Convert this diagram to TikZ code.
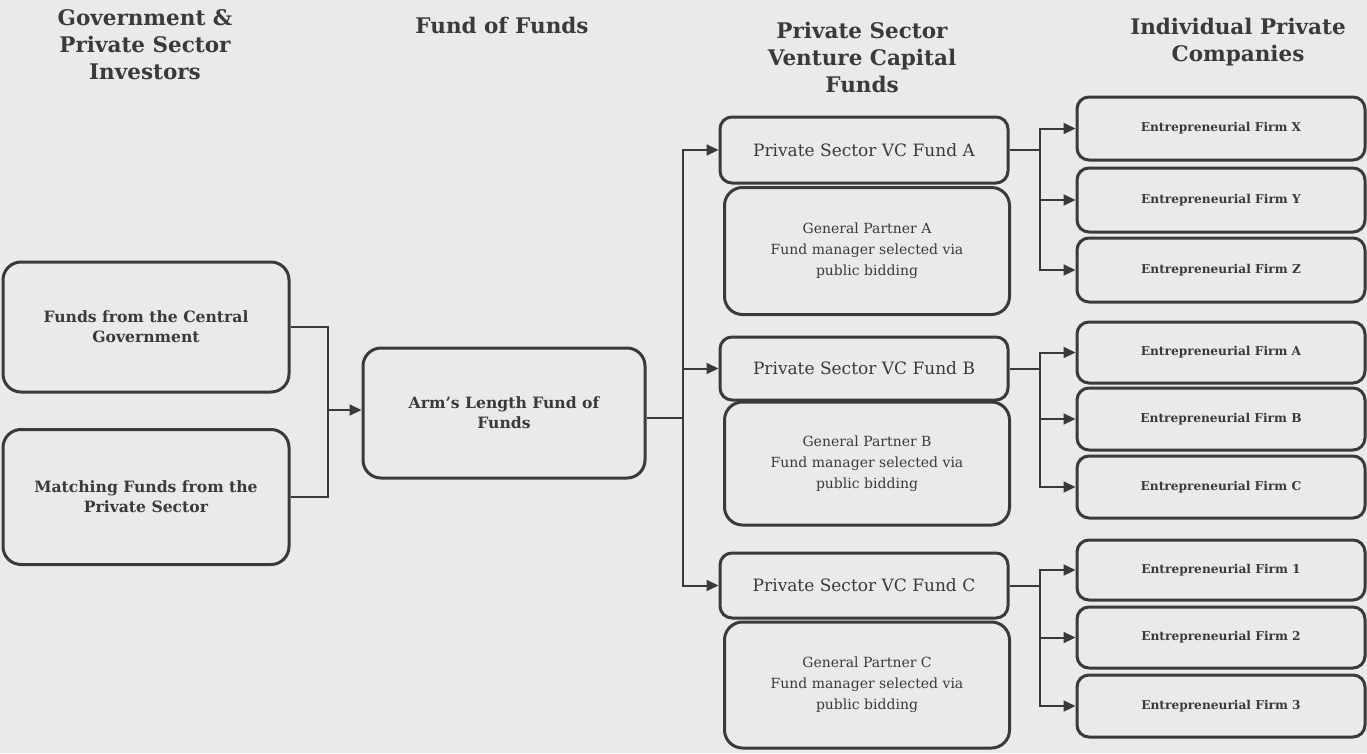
\documentclass[tikz,border=0pt]{standalone}
\usepackage{fontspec}
\setmainfont{DejaVu Serif}
\usetikzlibrary{arrows.meta}
\definecolor{bg}{HTML}{EAEAEA}
\definecolor{ink}{HTML}{3A3A3A}
\tikzset{
  box/.style={draw=ink, line width=3pt, rounded corners=18pt, align=center, text=ink, inner sep=2pt},
  sbox/.style={draw=ink, line width=3pt, rounded corners=12pt, align=center, text=ink, inner sep=2pt},
  head/.style={align=center, text=ink, font=\bfseries\fontsize{21.5}{27}\selectfont},
  lbl/.style={font=\bfseries\fontsize{15.6}{20}\selectfont},
  vcl/.style={font=\fontsize{17}{20}\selectfont},
  gpl/.style={font=\fontsize{14}{21}\selectfont},
  fil/.style={font=\bfseries\fontsize{12.2}{14}\selectfont},
  conn/.style={draw=ink, line width=2pt},
  arr/.style={conn, -{Triangle[length=12pt,width=11pt]}}
}
\begin{document}
\begin{tikzpicture}[x=1pt,y=-1pt]
\fill[bg] (0,0) rectangle (1367,753);
\useasboundingbox (0,0) rectangle (1367,753);
% headings
\node[head] (h1) at (145,45) {Government \&\\Private Sector\\Investors};
\node[head] (h2) at (502,25) {Fund of Funds};
\node[head] (h3) at (862,57) {Private Sector\\Venture Capital\\Funds};
\node[head] (h4) at (1238,42) {Individual Private\\Companies};
% left
\node[box, lbl, minimum width=286pt, minimum height=130pt] (gov) at (146,327) {Funds from the Central\\Government};
\node[box, lbl, minimum width=286pt, minimum height=135pt] (match) at (146,497) {Matching Funds from the\\Private Sector};
\node[box, lbl, minimum width=282pt, minimum height=130pt] (arm) at (504,413) {Arm's Length Fund of\\Funds};
% VC
\node[sbox, vcl, minimum width=288pt, minimum height=66pt] (vcA) at (864,150) {Private Sector VC Fund A};
\node[box, gpl, minimum width=285pt, minimum height=127pt] (gpA) at (867,251) {General Partner A\\Fund manager selected via\\public bidding};
\node[sbox, vcl, minimum width=288pt, minimum height=63pt] (vcB) at (864,368.5) {Private Sector VC Fund B};
\node[box, gpl, minimum width=285pt, minimum height=123pt] (gpB) at (867,463.5) {General Partner B\\Fund manager selected via\\public bidding};
\node[sbox, vcl, minimum width=288pt, minimum height=65pt] (vcC) at (864,585.5) {Private Sector VC Fund C};
\node[box, gpl, minimum width=285pt, minimum height=126pt] (gpC) at (867,685) {General Partner C\\Fund manager selected via\\public bidding};
% firms
\node[sbox, fil, minimum width=288pt, minimum height=63pt] (fX) at (1221,128.5) {Entrepreneurial Firm X};
\node[sbox, fil, minimum width=288pt, minimum height=64pt] (fY) at (1221,200) {Entrepreneurial Firm Y};
\node[sbox, fil, minimum width=288pt, minimum height=64pt] (fZ) at (1221,270) {Entrepreneurial Firm Z};
\node[sbox, fil, minimum width=288pt, minimum height=61pt] (fA) at (1221,352.5) {Entrepreneurial Firm A};
\node[sbox, fil, minimum width=288pt, minimum height=62pt] (fB) at (1221,419) {Entrepreneurial Firm B};
\node[sbox, fil, minimum width=288pt, minimum height=62pt] (fC) at (1221,487) {Entrepreneurial Firm C};
\node[sbox, fil, minimum width=288pt, minimum height=60pt] (f1) at (1221,570) {Entrepreneurial Firm 1};
\node[sbox, fil, minimum width=288pt, minimum height=61pt] (f2) at (1221,637.5) {Entrepreneurial Firm 2};
\node[sbox, fil, minimum width=288pt, minimum height=62pt] (f3) at (1221,706) {Entrepreneurial Firm 3};
% connectors
\coordinate (j1) at (328,410);
\draw[conn] (gov.east) -| (j1);
\draw[conn] (match.east) -| (j1);
\draw[arr] (j1) -- (arm.west |- j1);
\coordinate (t) at (683,418);
\draw[conn] (arm.east |- t) -- (t);
\draw[arr] (t) |- (vcA.west);
\draw[arr] (t) |- (vcB.west);
\draw[arr] (t) |- (vcC.west);
\coordinate (ja) at (1040,150);
\coordinate (jb) at (1040,368.5);
\coordinate (jc) at (1040,585.5);
\draw[conn] (vcA.east) -- (ja);
\draw[arr] (ja) |- (fX.west);
\draw[arr] (ja) |- (fY.west);
\draw[arr] (ja) |- (fZ.west);
\draw[conn] (vcB.east) -- (jb);
\draw[arr] (jb) |- (fA.west);
\draw[arr] (jb) |- (fB.west);
\draw[arr] (jb) |- (fC.west);
\draw[conn] (vcC.east) -- (jc);
\draw[arr] (jc) |- (f1.west);
\draw[arr] (jc) |- (f2.west);
\draw[arr] (jc) |- (f3.west);
\end{tikzpicture}
\end{document}
